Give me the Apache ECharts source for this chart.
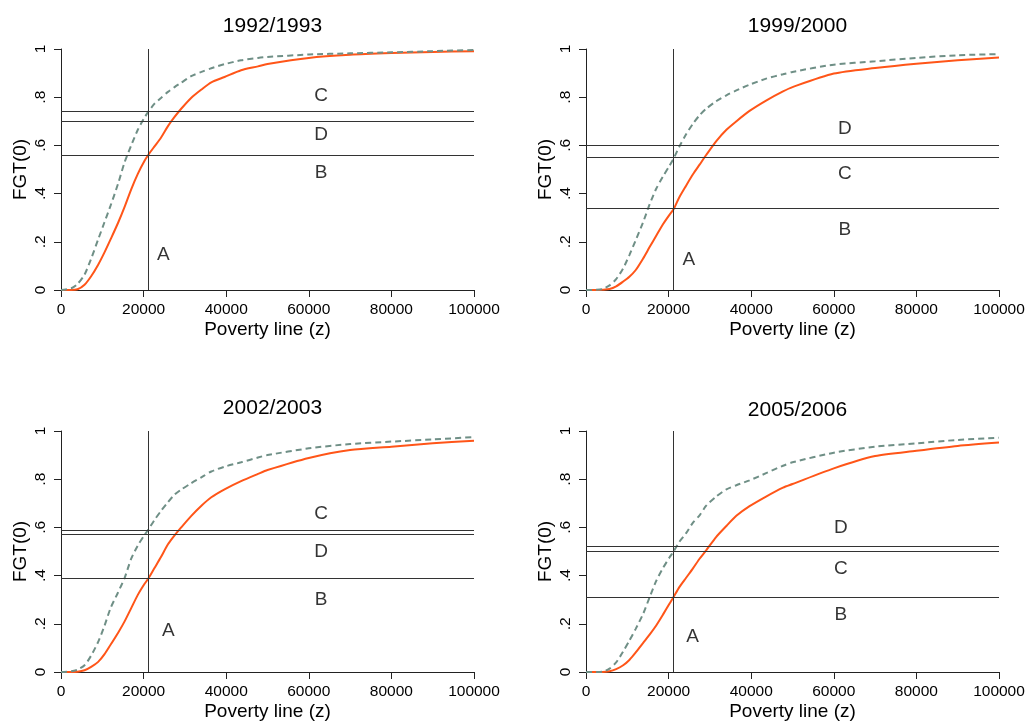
<!DOCTYPE html>
<html>
<head>
<meta charset="utf-8">
<script src="https://cdn.jsdelivr.net/npm/echarts@6/dist/echarts.min.js"></script>
<style>
  html, body { margin: 0; padding: 0; background: #fff; }
  #chart { width: 1029px; height: 723px; }
</style>
</head>
<body>
<div id="chart"></div>
<script>
// poverty line grid (z) used for reading the curves
const povertyLine = [0, 2500, 4000, 5700, 7300, 9000, 10500, 12000, 13800, 15400, 17000, 18600, 20200, 21200, 22600, 24200, 25900, 27500, 29100, 31500, 34000, 36400, 39600, 43600, 47700, 50000, 60000, 70000, 80000, 90000, 100000]

const orange9293 = [0, 0, 0.003, 0.022, 0.057, 0.105, 0.155, 0.210, 0.278, 0.345, 0.418, 0.482, 0.535, 0.562, 0.595, 0.632, 0.680, 0.718, 0.752, 0.797, 0.832, 0.862, 0.884, 0.912, 0.928, 0.938, 0.963, 0.976, 0.983, 0.988, 0.991]
const gray9293 = [0, 0.007, 0.025, 0.064, 0.130, 0.210, 0.280, 0.350, 0.440, 0.530, 0.600, 0.665, 0.715, 0.741, 0.772, 0.797, 0.822, 0.842, 0.860, 0.887, 0.905, 0.920, 0.937, 0.953, 0.963, 0.967, 0.977, 0.982, 0.986, 0.991, 0.996]

const orange9900 = [0, 0, 0.001, 0.004, 0.015, 0.035, 0.055, 0.082, 0.130, 0.178, 0.225, 0.272, 0.312, 0.335, 0.385, 0.432, 0.480, 0.520, 0.560, 0.617, 0.665, 0.700, 0.743, 0.786, 0.824, 0.842, 0.898, 0.921, 0.939, 0.953, 0.965]
const gray9900 = [0, 0.001, 0.004, 0.019, 0.045, 0.090, 0.145, 0.205, 0.280, 0.355, 0.420, 0.470, 0.515, 0.545, 0.595, 0.645, 0.690, 0.725, 0.752, 0.783, 0.808, 0.828, 0.852, 0.877, 0.895, 0.905, 0.935, 0.949, 0.963, 0.974, 0.979]

const orange0203 = [0, 0, 0.001, 0.007, 0.021, 0.042, 0.073, 0.113, 0.162, 0.210, 0.265, 0.320, 0.365, 0.389, 0.430, 0.477, 0.530, 0.567, 0.600, 0.647, 0.690, 0.725, 0.758, 0.792, 0.822, 0.838, 0.888, 0.921, 0.935, 0.949, 0.960]
const gray0203 = [0, 0.003, 0.010, 0.028, 0.068, 0.125, 0.190, 0.265, 0.330, 0.390, 0.470, 0.525, 0.568, 0.592, 0.630, 0.668, 0.705, 0.736, 0.757, 0.783, 0.808, 0.832, 0.852, 0.870, 0.890, 0.900, 0.928, 0.946, 0.956, 0.965, 0.975]

const orange0506 = [0, 0, 0, 0.003, 0.012, 0.028, 0.050, 0.080, 0.120, 0.155, 0.193, 0.237, 0.283, 0.311, 0.352, 0.390, 0.430, 0.470, 0.505, 0.560, 0.606, 0.648, 0.688, 0.728, 0.765, 0.780, 0.845, 0.896, 0.918, 0.938, 0.952]
const gray0506 = [0, 0, 0.001, 0.014, 0.040, 0.085, 0.130, 0.178, 0.240, 0.310, 0.378, 0.430, 0.475, 0.500, 0.540, 0.575, 0.620, 0.650, 0.690, 0.728, 0.758, 0.775, 0.795, 0.825, 0.856, 0.870, 0.910, 0.935, 0.949, 0.963, 0.972]

// reference lines and region letters
const zLine = 21100
const hLines9293 = [0.739, 0.700, 0.564]
const hLines9900 = [0.604, 0.546, 0.337]
const hLines0203 = [0.591, 0.574, 0.389]
const hLines0506 = [0.517, 0.501, 0.311]

const letters9293 = [['A', 24800, 0.147], ['B', 63000, 0.488], ['C', 63000, 0.808], ['D', 63000, 0.645]]
const letters9900 = [['A', 24900, 0.126], ['B', 62700, 0.248], ['C', 62700, 0.481], ['D', 62700, 0.669]]
const letters0203 = [['A', 26000, 0.172], ['B', 63000, 0.299], ['C', 63000, 0.658], ['D', 63000, 0.499]]
const letters0506 = [['A', 25800, 0.147], ['B', 61700, 0.239], ['C', 61700, 0.430], ['D', 61700, 0.599]]

const titles = ['1992/1993', '1999/2000', '2002/2003', '2005/2006']
const xTicks = [0, 20000, 40000, 60000, 80000, 100000]
const yTickLabels = ['0', '.2', '.4', '.6', '.8', '1']

const panels = [
  { orange: orange9293, gray: gray9293, hLines: hLines9293, letters: letters9293, left: 61, top: 49, titleTop: 11 },
  { orange: orange9900, gray: gray9900, hLines: hLines9900, letters: letters9900, left: 586, top: 49, titleTop: 11 },
  { orange: orange0203, gray: gray0203, hLines: hLines0203, letters: letters0203, left: 61, top: 431, titleTop: 393 },
  { orange: orange0506, gray: gray0506, hLines: hLines0506, letters: letters0506, left: 586, top: 431, titleTop: 395 }
]

const font = "'Liberation Sans', Arial, sans-serif"
const plotW = 413
const plotH = 241

const zip = (ys) => povertyLine.map((x, i) => [x, ys[i]])

const option = {
  animation: false,
  backgroundColor: '#fff',
  title: [],
  grid: [],
  xAxis: [],
  yAxis: [],
  series: []
}

panels.forEach((p, i) => {
  option.title.push({
    text: titles[i],
    left: p.left + plotW / 2,
    top: p.titleTop,
    textAlign: 'center',
    textStyle: { fontFamily: font, fontSize: 21, fontWeight: 'normal', color: '#000' }
  })
  option.grid.push({ left: p.left, top: p.top, width: plotW, height: plotH })
  option.xAxis.push({
    gridIndex: i,
    type: 'value',
    min: 0,
    max: 100000,
    interval: 20000,
    name: 'Poverty line (z)',
    nameLocation: 'middle',
    nameGap: 30,
    nameTextStyle: { fontFamily: font, fontSize: 19, color: '#000' },
    axisLine: { show: true, onZero: false, lineStyle: { color: '#222', width: 1 } },
    axisTick: { show: true, length: 7, lineStyle: { color: '#222' } },
    axisLabel: {
      fontFamily: font, fontSize: 15.5, color: '#000', margin: 12,
      formatter: (v) => xTicks.includes(v) ? String(v) : ''
    },
    splitLine: { show: false }
  })
  option.yAxis.push({
    gridIndex: i,
    type: 'value',
    min: 0,
    max: 1,
    interval: 0.2,
    name: 'FGT(0)',
    nameLocation: 'middle',
    nameGap: 31,
    nameTextStyle: { fontFamily: font, fontSize: 19, color: '#000' },
    axisLine: { show: true, onZero: false, lineStyle: { color: '#222', width: 1 } },
    axisTick: { show: true, length: 7, lineStyle: { color: '#222' } },
    axisLabel: {
      fontFamily: font, fontSize: 15.5, color: '#000', rotate: 90, margin: 12,
      formatter: (v) => yTickLabels[Math.round(v * 5)]
    },
    splitLine: { show: false }
  })
  option.series.push({
    type: 'line',
    xAxisIndex: i,
    yAxisIndex: i,
    data: zip(p.orange),
    showSymbol: false,
    smooth: 0.25,
    lineStyle: { color: '#ff5518', width: 2 },
    z: 3
  })
  option.series.push({
    type: 'line',
    xAxisIndex: i,
    yAxisIndex: i,
    data: zip(p.gray),
    showSymbol: false,
    smooth: 0.25,
    lineStyle: { color: '#6f8f86', width: 2, type: [6, 4] },
    z: 4
  })
  option.series.push({
    type: 'scatter',
    xAxisIndex: i,
    yAxisIndex: i,
    symbolSize: 0.1,
    itemStyle: { color: 'transparent' },
    silent: true,
    data: p.letters.map((l) => ({ name: l[0], value: [l[1], l[2]] })),
    label: {
      show: true,
      position: 'inside',
      formatter: '{b}',
      fontFamily: font,
      fontSize: 19,
      color: '#000'
    },
    markLine: {
      silent: true,
      symbol: ['none', 'none'],
      label: { show: false },
      lineStyle: { color: '#333', width: 1, type: 'solid' },
      data: [{ xAxis: zLine }].concat(p.hLines.map((v) => ({ yAxis: v })))
    },
    z: 2
  })
})

const chart = echarts.init(document.getElementById('chart'))
chart.setOption(option)
</script>
</body>
</html>
